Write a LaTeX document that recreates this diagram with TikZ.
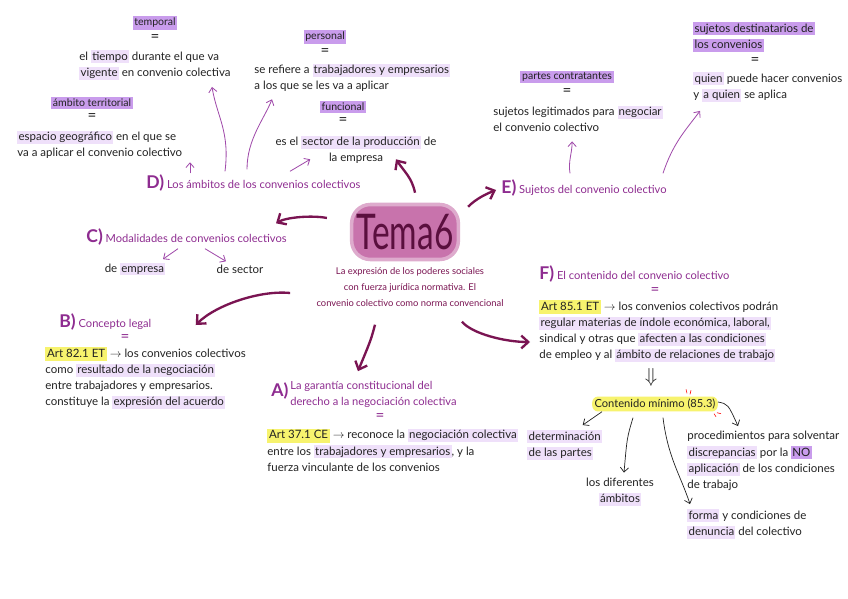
\documentclass[tikz,border=0pt]{standalone}
\usepackage{fontspec}
\setmainfont{Lato}
\usetikzlibrary{positioning, arrows.meta, calc}

\definecolor{headpurple}{HTML}{8E2C90}
\definecolor{arrowmaroon}{HTML}{7A1452}
\definecolor{thinpurple}{HTML}{A04AAA}
\definecolor{hlstrong}{HTML}{C99CEC}
\definecolor{hllight}{HTML}{EFE0FA}
\definecolor{hlyellow}{HTML}{F7F36E}
\definecolor{blobpink}{HTML}{C873AC}
\definecolor{temadark}{HTML}{5A0F3E}
\definecolor{inkgrey}{HTML}{222222}

\newcommand{\hlk}[1]{{\setlength{\fboxsep}{1pt}\colorbox{hlstrong}{\vphantom{hg}#1}}}
\newcommand{\hll}[1]{{\setlength{\fboxsep}{1pt}\colorbox{hllight}{\vphantom{hg}#1}}}
\newcommand{\hly}[1]{{\setlength{\fboxsep}{1.5pt}\colorbox{hlyellow}{\vphantom{hg}#1}}}
\newcommand{\lettr}[1]{{\fontsize{15}{15}\selectfont\bfseries #1}}

\begin{document}
\begin{tikzpicture}[
    x=0.03cm, y=-0.03cm,
    >={Straight Barb[length=4pt, width=7pt]},
    node distance = 4pt and 10pt,
    %% ── node styles ──────────────────────────────────────────
    body/.style   = {text=inkgrey, font=\fontsize{9.8}{13.8}\selectfont,
                     inner sep=1pt, align=left},
    bodyc/.style  = {body, align=center},
    keyw/.style   = {text=inkgrey, font=\fontsize{9}{11}\selectfont,
                     fill=hlstrong, inner sep=1.5pt},
    eqsign/.style = {text=inkgrey, font=\fontsize{13}{13}\selectfont, inner sep=0pt},
    head/.style   = {text=headpurple, font=\fontsize{9.5}{14}\selectfont,
                     inner sep=1pt, align=left},
    tema/.style   = {fill=blobpink, draw=blobpink!60, line width=3pt,
                     rounded corners=16pt, text=temadark,
                     minimum width=3.2cm, minimum height=1.65cm},
    sub/.style    = {text=arrowmaroon, font=\fontsize{8}{13.5}\selectfont,
                     inner sep=1pt, align=center},
    cmbox/.style  = {text=inkgrey, font=\fontsize{9.5}{11}\selectfont,
                     fill=hlyellow, rounded corners=5pt, inner sep=2pt},
    big/.style    = {->, arrowmaroon, line width=2pt,
                     >={Straight Barb[length=6pt, width=11pt]}},
    thin/.style   = {->, thinpurple, line width=0.7pt},
    ink/.style    = {->, inkgrey, line width=0.6pt}
]
\fill[white] (0,0) rectangle (848,599);
\useasboundingbox (0,0) rectangle (848,599);

%% ── Centre ───────────────────────────────────────────────────
\node[tema] (tema) at (405,232)
    {\scalebox{0.68}[1]{\fontsize{42}{42}\selectfont Tema6}};
\node[sub] (sub) at (410,287)
    {La expresión de los poderes sociales\\
     con fuerza jurídica normativa. El\\
     convenio colectivo como norma convencional};

%% ── D) ámbitos ───────────────────────────────────────────────
\node[keyw] (temporal) at (155,23) {temporal};
\node[eqsign, below=of temporal] (teq) {=};
\node[body, anchor=west] (tdef) at (78,65)
    {el \hll{tiempo} durante el que va\\\hll{vigente} en convenio colectiva};
\node[keyw] (ambterr) at (92,103) {ámbito territorial};
\node[eqsign, below=of ambterr] (aeq) {=};
\node[body, anchor=west] (adef) at (16,145)
    {\hll{espacio geográfico} en el que se\\va a aplicar el convenio colectivo};
\node[keyw] (personal) at (325,37) {personal};
\node[eqsign, below=of personal] (peq) {=};
\node[body, anchor=west] (pdef) at (253,78)
    {se refiere a \hll{trabajadores y empresarios}\\a los que se les va a aplicar};
\node[keyw] (funcional) at (343,107) {funcional};
\node[eqsign, below=of funcional] (feq) {=};
\node[bodyc] (fdef) at (356,150)
    {es el \hll{sector de la producción} de\\la empresa};
\node[head, anchor=west] (dhead) at (145,183)
    {\lettr{D)} Los ámbitos de los convenios colectivos};

%% ── E) sujetos ───────────────────────────────────────────────
\node[body, anchor=west] (destin) at (692,37)
    {\hlk{sujetos destinatarios de}\\\hlk{los convenios}};
\node[eqsign] (deq) at (755,61) {=};
\node[body, anchor=west] (qdef) at (692,87)
    {\hll{quien} puede hacer convenios\\y \hll{a quien} se aplica};
\node[keyw] (partes) at (567,77) {partes contratantes};
\node[eqsign, below=of partes] (paeq) {=};
\node[body, anchor=west] (pcdef) at (492,119)
    {sujetos legitimados para \hll{negociar}\\el convenio colectivo};
\node[head, anchor=west] (ehead) at (500,188)
    {\lettr{E)} Sujetos del convenio colectivo};

%% ── C) modalidades ───────────────────────────────────────────
\node[head, anchor=west] (chead) at (85,237)
    {\lettr{C)} Modalidades de convenios colectivos};
\node[body] (demp) at (135,269) {de \hll{empresa}};
\node[body] (dsec) at (240,269) {de sector};

%% ── B) concepto legal ────────────────────────────────────────
\node[head, anchor=west] (bhead) at (58,322) {\lettr{B)} Concepto legal};
\node[eqsign, text=headpurple] (beq) at (125,338) {=};
\node[body, anchor=west] (b82) at (44,378)
    {\hly{Art 82.1 ET} $\to$ los convenios colectivos\\
     como \hll{resultado de la negociación}\\
     entre trabajadores y empresarios.\\
     constituye la \hll{expresión del acuerdo}};

%% ── A) garantía constitucional ───────────────────────────────
\node[head, anchor=west] (ahead) at (270,394)
    {\lettr{A)}\,\begin{tabular}{@{}l@{}}La garantía constitucional del\\
     derecho a la negociación colectiva\end{tabular}};
\node[eqsign, text=headpurple] (aeq2) at (380,417) {=};
\node[body, anchor=west] (a37) at (266,450)
    {\hly{Art 37.1 CE} $\to$ reconoce la \hll{negociación colectiva}\\
     entre los \hll{trabajadores y empresarios}, y la\\
     fuerza vinculante de los convenios};

%% ── F) contenido ─────────────────────────────────────────────
\node[head, anchor=west] (fhead) at (538,274)
    {\lettr{F)} El contenido del convenio colectivo};
\node[eqsign, text=headpurple] (fheq) at (655,291) {=};
\node[body, anchor=west] (f85) at (538,331)
    {\hly{Art 85.1 ET} $\to$ los convenios colectivos podrán\\
     \hll{regular materias de índole económica, laboral,}\\
     sindical y otras que \hll{afecten a las condiciones}\\
     de empleo y al \hll{ámbito de relaciones de trabajo}};
\node[eqsign] (imp) at (651,377) {\fontsize{18}{18}\selectfont$\Downarrow$};
\node[cmbox] (cmin) at (655,404) {Contenido mínimo (85.3)};
\node[body, anchor=west] (det) at (526,445)
    {\hll{determinación}\\\hll{de las partes}};
\node[bodyc] (amb) at (620,492) {los diferentes\\\hll{ámbitos}};
\node[body, anchor=west] (proc) at (686,461)
    {procedimientos para solventar\\
     \hll{discrepancias} por la \hlk{NO}\\
     \hll{aplicación} de los condiciones\\
     de trabajo};
\node[body, anchor=west] (forma) at (686,524)
    {\hll{forma} y condiciones de\\\hll{denuncia} del colectivo};

%% ── Arrows: from the centre ──────────────────────────────────
\draw[big] ($(tema.north)+(10,-10)$) .. controls +(-3,-15) and +(8,12) .. ($(fdef.south)+(40,-6)$);
\draw[big] ($(tema.north east)+(8,4)$) .. controls +(8,-8) and +(-10,4) .. ($(ehead.west)+(-4,2)$);
\draw[big] ($(tema.west)+(-23,-14)$) .. controls +(-15,-3) and +(10,-6) .. ($(chead.north east)+(-12,-4)$);
\draw[big] ($(sub.west)+(-25,6)$) .. controls +(-30,-3) and +(20,-20) .. ($(bhead.east)+(43,3)$);
\draw[big] ($(sub.south)+(-35,17)$) .. controls +(-4,15) .. ($(ahead.north)+(-6,-5)$);
\draw[big] ($(sub.south)+(52,14)$) .. controls +(10,12) and +(-25,0) .. ($(f85.west)+(-8,11)$);

%% ── Arrows: D) and E) ────────────────────────────────────────
\draw[thin] ($(dhead.north west)+(45,0)$) -- ($(adef.south west)+(174,2)$);
\draw[thin] ($(dhead.north west)+(80,-2)$) .. controls +(5,-40) and +(5,30) .. ($(tdef.south west)+(134,6)$);
\draw[thin] ($(dhead.north west)+(102,-4)$) .. controls +(0,-30) and +(-8,20) .. ($(pdef.south west)+(19,6)$);
\draw[thin] ($(dhead.north west)+(145,-2)$) -- ($(fdef.south west)+(36,-6)$);
\draw[thin] ($(ehead.north west)+(70,-5)$) .. controls +(-2,-12) and +(0,12) .. ($(pcdef.south)+(-6,8)$);
\draw[thin] ($(ehead.north west)+(163,-5)$) .. controls +(10,-30) and +(-15,20) .. ($(qdef.south west)+(8,8)$);

%% ── Arrows: C) ───────────────────────────────────────────────
\draw[thin] ($(chead.south west)+(93,2)$) -- ($(demp.north)+(28,-2)$);
\draw[thin] ($(chead.south west)+(120,2)$) -- ($(dsec.north)+(-14,-2)$);

%% ── Arrows: contenido mínimo ─────────────────────────────────
\draw[ink] ($(cmin.south west)+(10,0)$) -- ($(det.north)+(18,-4)$);
\draw[ink] ($(cmin.south)+(-22,6)$) .. controls +(-6,20) .. ($(amb.north)+(4,-4)$);
\draw[ink] ($(cmin.south)+(8,6)$) .. controls +(5,40) and +(-10,-30) .. ($(forma.north west)+(4,-4)$);
\draw[ink] ($(cmin.east)+(0,-2)$) .. controls +(10,2) .. ($(proc.north west)+(52,-4)$);

%% sparkles
\draw[red, line width=0.5pt] ($(cmin.north)+(32,-3)$) -- +(-1,-4)
      ($(cmin.north)+(35,-2)$) -- +(1,-4)
      ($(cmin.south east)+(-4,2)$) -- +(2,3)
      ($(cmin.south east)+(-1,1)$) -- +(4,1);

\end{tikzpicture}
\end{document}
